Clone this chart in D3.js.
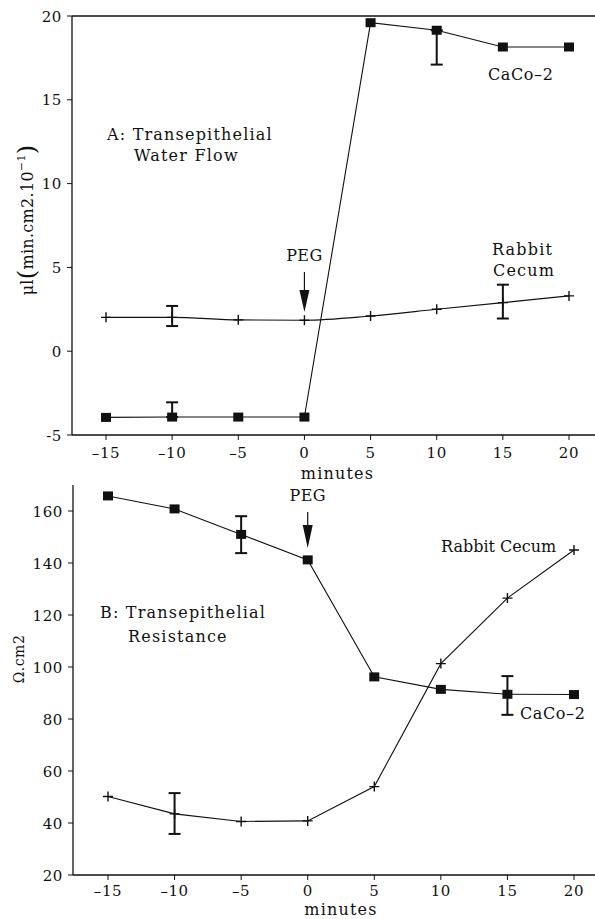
<!DOCTYPE html>
<html>
<head>
<meta charset="UTF-8">
<title>PEG water flow and resistance</title>
<script src="https://d3js.org/d3.v7.min.js"></script>
<style>
body { margin: 0; background: #fff; }
svg text { font-family: "DejaVu Serif", serif; fill: #111;
  font-size: 16px; letter-spacing: 1.2px; }
svg text.tick { font-size: 15px; letter-spacing: 0.6px; }
</style>
</head>
<body>
<div id="chart"></div>
<script>
// x values (minutes)
var minutes = [-15, -10, -5, 0, 5, 10, 15, 20];
var xTicks = [-15, -10, -5, 0, 5, 10, 15, 20];

// panel A: water flow
var flowCaco = [-3.95, -3.93, -3.93, -3.93, 19.6, 19.15, 18.15, 18.15];
var flowRabbit = [2.02, 2.02, 1.87, 1.85, 2.1, 2.5, 2.9, 3.3];
var flowCacoErr = [{x: -10, lo: -3.93, hi: -3.05}, {x: 10, lo: 17.1, hi: 19.15}];
var flowRabbitErr = [{x: -10, lo: 1.5, hi: 2.7}, {x: 15, lo: 1.95, hi: 3.97}];
var flowTicks = [-5, 0, 5, 10, 15, 20];

// panel B: resistance
var resCaco = [165.8, 160.8, 151, 141.2, 96.2, 91.4, 89.5, 89.4];
var resRabbit = [50.2, 43.5, 40.6, 40.8, 54, 101.3, 126.5, 145];
var resCacoErr = [{x: -5, lo: 143.8, hi: 158}, {x: 15, lo: 81.6, hi: 96.5}];
var resRabbitErr = [{x: -10, lo: 35.8, hi: 51.5}];
var resTicks = [20, 40, 60, 80, 100, 120, 140, 160];

var svg = d3.select("#chart").append("svg")
  .attr("width", 595).attr("height", 919);

function drawPanel(o) {
  var g = svg.append("g");
  var x = d3.scaleLinear().domain([-15, 20]).range(o.xr);
  var y = d3.scaleLinear().domain(o.yd).range(o.yr);
  var left = o.left, right = 595;

  // axes
  g.append("line").attr("x1", left).attr("x2", left)
    .attr("y1", o.axisTop).attr("y2", o.yr[0])
    .attr("stroke", "#111").attr("stroke-width", 1.3);
  g.append("line").attr("x1", left).attr("x2", right)
    .attr("y1", o.yr[0]).attr("y2", o.yr[0])
    .attr("stroke", "#111").attr("stroke-width", 1.5);
  if (o.topLine) {
    g.append("line").attr("x1", left).attr("x2", right)
      .attr("y1", o.axisTop).attr("y2", o.axisTop)
      .attr("stroke", "#111").attr("stroke-width", 1.5);
  }

  // y ticks
  o.yTicks.forEach(function(t) {
    g.append("line").attr("x1", left - 5).attr("x2", left)
      .attr("y1", y(t)).attr("y2", y(t)).attr("stroke", "#111");
    g.append("text").attr("class", "tick").attr("x", left - 10).attr("y", y(t) + 5.5)
      .attr("text-anchor", "end").text(t);
  });
  // x ticks
  xTicks.forEach(function(t) {
    g.append("line").attr("x1", x(t)).attr("x2", x(t))
      .attr("y1", o.yr[0]).attr("y2", o.yr[0] + 5).attr("stroke", "#111");
    g.append("text").attr("class", "tick").attr("x", x(t)).attr("y", o.yr[0] + o.tickOff)
      .attr("text-anchor", "middle")
      .text(t < 0 ? "\u2013" + (-t) : t);
  });
  g.append("text").attr("x", (x(0) + x(5)) / 2).attr("y", o.yr[0] + o.minOff)
    .attr("text-anchor", "middle").text("minutes");

  // lines
  var lineCaco = d3.line().x(function(d, i) { return x(minutes[i]); }).y(function(d) { return y(d); });
  var lineRabbit = d3.line().curve(o.rabbitCurve)
    .x(function(d, i) { return x(minutes[i]); }).y(function(d) { return y(d); });
  g.append("path").datum(o.caco).attr("d", lineCaco)
    .attr("fill", "none").attr("stroke", "#111").attr("stroke-width", 1.1);
  g.append("path").datum(o.rabbit).attr("d", lineRabbit)
    .attr("fill", "none").attr("stroke", "#111").attr("stroke-width", 1.1);

  // error bars
  o.errs.forEach(function(e) {
    g.append("line").attr("x1", x(e.x)).attr("x2", x(e.x))
      .attr("y1", y(e.lo)).attr("y2", y(e.hi)).attr("stroke", "#111").attr("stroke-width", 2);
    [e.lo, e.hi].forEach(function(v) {
      g.append("line").attr("x1", x(e.x) - 6).attr("x2", x(e.x) + 6)
        .attr("y1", y(v)).attr("y2", y(v)).attr("stroke", "#111").attr("stroke-width", 2);
    });
  });

  // markers
  g.selectAll(".sq").data(o.caco).enter().append("rect")
    .attr("x", function(d, i) { return x(minutes[i]) - 5; })
    .attr("y", function(d) { return y(d) - 4.5; })
    .attr("width", 10).attr("height", 9).attr("fill", "#111");
  o.rabbit.forEach(function(d, i) {
    var cx = x(minutes[i]), cy = y(d);
    g.append("path").attr("d", "M" + (cx - 5) + "," + cy + "H" + (cx + 5) + "M" + cx + "," + (cy - 5) + "V" + (cy + 5))
      .attr("stroke", "#111").attr("stroke-width", 1.4);
  });

  // PEG arrow
  var ax = x(0);
  g.append("text").attr("x", ax).attr("y", o.pegY).attr("text-anchor", "middle")
    .style("letter-spacing", "0.4px").text("PEG");
  g.append("line").attr("x1", ax).attr("x2", ax).attr("y1", o.pegY + 11).attr("y2", o.pegY + o.headStart + 2)
    .attr("stroke", "#111").attr("stroke-width", 1.2);
  g.append("path").attr("d", "M" + (ax - 5) + "," + (o.pegY + o.headStart) + "L" + (ax + 5) + "," + (o.pegY + o.headStart) +
      "L" + ax + "," + (o.pegY + o.tip) + "Z").attr("fill", "#111");

  return {g: g, x: x, y: y};
}

// Panel A
var a = drawPanel({
  xr: [106, 569], yd: [-5, 20], yr: [435, 16], left: 72, axisTop: 16, topLine: true,
  yTicks: flowTicks, caco: flowCaco, rabbit: flowRabbit, rabbitCurve: d3.curveMonotoneX,
  errs: flowCacoErr.concat(flowRabbitErr), pegY: 261, headStart: 29, tip: 51,
  tickOff: 23, minOff: 44
});
a.g.append("text").attr("x", 107).attr("y", 140).text("A: Transepithelial");
a.g.append("text").attr("x", 134).attr("y", 161).text("Water Flow");
a.g.append("text").attr("x", 488).attr("y", 80).style("letter-spacing", "0.6px").text("CaCo\u20132");
a.g.append("text").attr("x", 492).attr("y", 255).text("Rabbit");
a.g.append("text").attr("x", 493).attr("y", 276).text("Cecum");
a.g.append("text")
  .attr("transform", "translate(33,220) rotate(-90)")
  .attr("text-anchor", "middle").style("letter-spacing", "0.3px")
  .html('\u03bcl<tspan style="font-size:24px" dy="2">(</tspan><tspan dy="-2">min.cm2.10</tspan><tspan style="font-size:11px" dy="-8">\u22121</tspan><tspan style="font-size:24px" dy="10">)</tspan>');

// Panel B
var b = drawPanel({
  xr: [108, 574], yd: [20, 160], yr: [875, 511], left: 73, axisTop: 485, topLine: false,
  yTicks: resTicks, caco: resCaco, rabbit: resRabbit, rabbitCurve: d3.curveLinear,
  errs: resCacoErr.concat(resRabbitErr), pegY: 501, headStart: 24, tip: 47,
  tickOff: 21, minOff: 40
});
b.g.append("text").attr("x", 100).attr("y", 618).text("B: Transepithelial");
b.g.append("text").attr("x", 128).attr("y", 642).text("Resistance");
b.g.append("text").attr("x", 520).attr("y", 719).style("letter-spacing", "0.6px").text("CaCo\u20132");
b.g.append("text").attr("x", 441).attr("y", 552).style("letter-spacing", "0px").text("Rabbit Cecum");
b.g.append("text")
  .attr("transform", "translate(24,659) rotate(-90)")
  .attr("text-anchor", "middle").style("font-size", "14px").style("letter-spacing", "0.5px").text("\u03a9.cm2");
</script>
</body>
</html>
